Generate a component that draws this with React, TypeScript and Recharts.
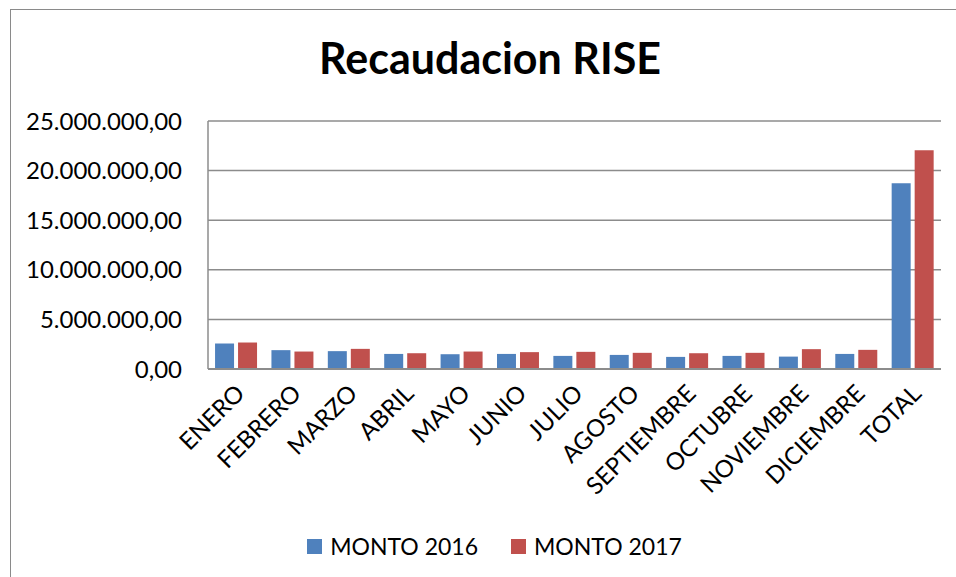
import React from "react";
import { BarChart, Bar, XAxis, YAxis, CartesianGrid, Legend } from "recharts";

const months = [
  "ENERO", "FEBRERO", "MARZO", "ABRIL", "MAYO", "JUNIO", "JULIO",
  "AGOSTO", "SEPTIEMBRE", "OCTUBRE", "NOVIEMBRE", "DICIEMBRE", "TOTAL",
];
const monto2016 = [
  2570000, 1900000, 1800000, 1520000, 1490000, 1520000, 1320000,
  1420000, 1220000, 1320000, 1250000, 1520000, 18730000,
];
const monto2017 = [
  2670000, 1760000, 2030000, 1590000, 1760000, 1700000, 1730000,
  1630000, 1590000, 1630000, 2000000, 1930000, 22050000,
];
const yTicks = [0, 5000000, 10000000, 15000000, 20000000, 25000000];

const FONT = "Lato, 'Open Sans', sans-serif";

const data = months.map((m, i) => ({ mes: m, m2016: monto2016[i], m2017: monto2017[i] }));

// 25000000 -> "25.000.000,00"
function fmt(v: number) {
  const int = Math.round(v).toString().replace(/\B(?=(\d{3})+(?!\d))/g, ".");
  return int + ",00";
}

function MonthTick(props: any) {
  const { x, y, payload } = props;
  return (
    <g transform={`translate(${x + 4},${y + 12})`}>
      <text
        x={0}
        y={0}
        textAnchor="end"
        transform="rotate(-45)"
        fill="#000"
        fontSize={24}
        fontFamily={FONT}
        dy="0.35em"
      >
        {payload.value}
      </text>
    </g>
  );
}

function LegendBox() {
  const items = [
    { label: "MONTO 2016", color: "#4f81bd" },
    { label: "MONTO 2017", color: "#c0504d" },
  ];
  return (
    <div style={{ display: "flex", justifyContent: "center", gap: 33, height: 30, alignItems: "center", paddingLeft: 48, marginTop: -2 }}>
      {items.map((it) => (
        <div key={it.label} style={{ display: "flex", alignItems: "center", gap: 8 }}>
          <span style={{ width: 15, height: 15, background: it.color, display: "inline-block" }} />
          <span style={{ fontFamily: FONT, fontSize: 23, color: "#000" }}>{it.label}</span>
        </div>
      ))}
    </div>
  );
}

export default function App() {
  return (
    <div style={{ position: "fixed", left: 0, top: 0, width: 956, height: 577, overflow: "hidden", background: "#fff" }}>
      <div
        style={{
          position: "absolute",
          left: 10,
          top: 9,
          width: 980,
          height: 600,
          border: "1px solid #8a8a8a",
        }}
      />
      <div
        style={{
          position: "absolute",
          left: 0,
          width: 980,
          top: 32,
          textAlign: "center",
          fontFamily: FONT,
          fontWeight: 700,
          fontSize: 43,
          color: "#000",
        }}
      >
        Recaudacion RISE
      </div>
      <div style={{ position: "absolute", left: 0, top: 0 }}>
        <BarChart
          width={956}
          height={577}
          data={data}
          margin={{ top: 121, right: 15, left: 0, bottom: 16 }}
          barCategoryGap="12.5%"
          barGap={4}
        >
          <CartesianGrid vertical={false} stroke="#8c8c8c" strokeWidth={1.5} />
          <XAxis
            dataKey="mes"
            interval={0}
            height={164}
            tickLine={false}
            axisLine={{ stroke: "#8c8c8c", strokeWidth: 2 }}
            tick={<MonthTick />}
          />
          <YAxis
            width={208}
            domain={[0, 25000000]}
            ticks={yTicks}
            tickFormatter={fmt}
            tickLine={false}
            axisLine={{ stroke: "#8c8c8c", strokeWidth: 1.5 }}
            tick={{ fill: "#000", fontSize: 24, fontFamily: FONT }}
            tickMargin={20}
          />
          <Legend verticalAlign="bottom" content={() => <LegendBox />} />
          <Bar dataKey="m2016" name="MONTO 2016" fill="#4f81bd" isAnimationActive={false} />
          <Bar dataKey="m2017" name="MONTO 2017" fill="#c0504d" isAnimationActive={false} />
        </BarChart>
      </div>
    </div>
  );
}
